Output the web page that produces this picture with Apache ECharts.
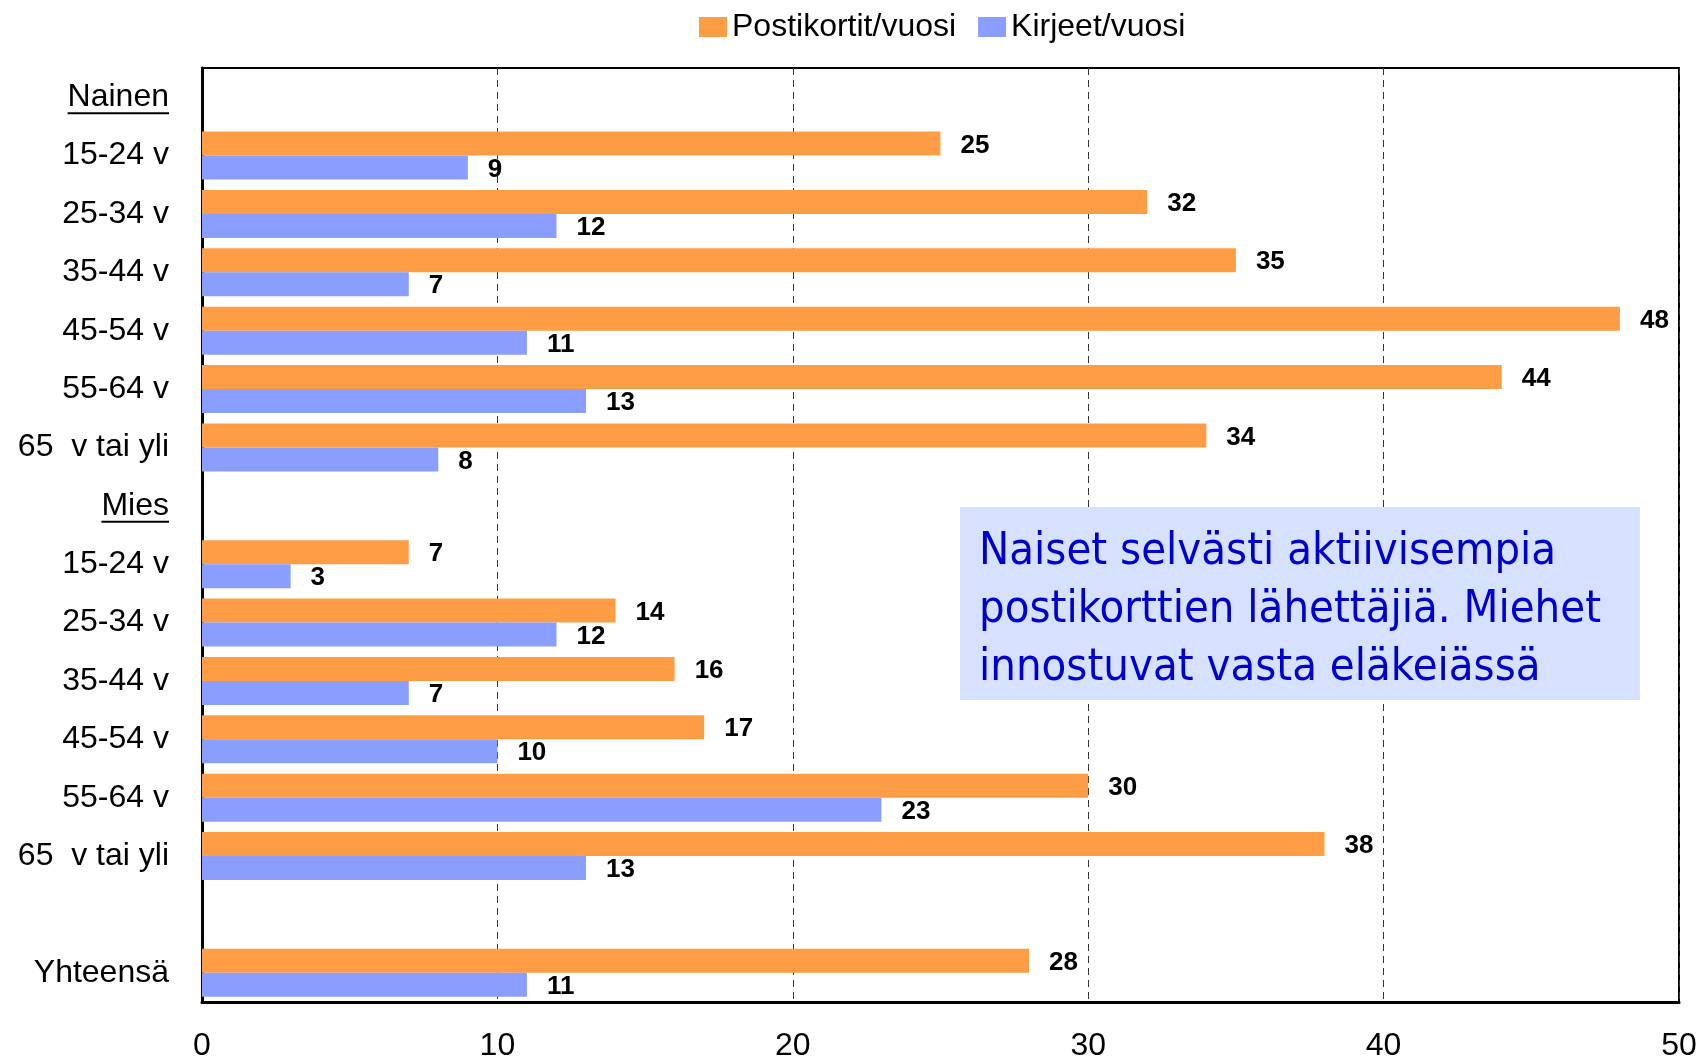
<!DOCTYPE html>
<html>
<head>
<meta charset="utf-8">
<title>Postikortit ja kirjeet</title>
<script src="https://cdn.jsdelivr.net/npm/echarts@6/dist/echarts.min.js"></script>
<style>
html,body{margin:0;padding:0;background:#fff;}
#chart{width:1702px;height:1057px;}
</style>
</head>
<body>
<div id="chart"></div>
<script>
// luokat ylhäältä alas, tyhjät rivit ovat otsikoita / väli
var categories = ['Nainen','15-24 v','25-34 v','35-44 v','45-54 v','55-64 v','65  v tai yli',
                  'Mies','15-24 v','25-34 v','35-44 v','45-54 v','55-64 v','65  v tai yli',
                  '','Yhteensä']
var headerRows = [0, 7]
var postikortit = [null,25,32,35,48,44,34, null,7,14,16,17,30,38, null,28]
var kirjeet     = [null,9,12,7,11,13,8,     null,3,12,7,10,23,13,   null,11]
var xTicks = [0,10,20,30,40,50]
var note = ['Naiset selvästi aktiivisempia','postikorttien lähettäjiä. Miehet','innostuvat vasta eläkeiässä']

var font = "'Liberation Sans', Arial, sans-serif"
var chart = echarts.init(document.getElementById('chart'))

var options = {
    animation:false,
    textStyle:{fontFamily:font},
    legend:{
        top:6,
        left:694,
        icon:'rect',
        itemWidth:28,
        itemHeight:20,
        itemGap:22,
        textStyle:{fontSize:32, color:'#000', fontFamily:font},
        data:['Postikortit/vuosi','Kirjeet/vuosi']
    },
    grid:{
        left:202, right:23, top:68, bottom:55,
        outerBoundsMode:'none',
        show:true,
        borderColor:'#000',
        borderWidth:2
    },
    xAxis:{
        type:'value',
        min:xTicks[0],
        max:xTicks[xTicks.length-1],
        interval:10,
        axisLine:{show:true, lineStyle:{color:'#000', width:3}},
        axisTick:{show:false},
        axisLabel:{fontSize:32, color:'#000', margin:28, fontFamily:font},
        splitLine:{show:true, lineStyle:{color:'#333', type:[7,5], width:1}}
    },
    yAxis:{
        type:'category',
        inverse:true,
        data:categories,
        axisLine:{show:true, lineStyle:{color:'#000', width:3}},
        axisTick:{show:false},
        axisLabel:{fontSize:32, color:'#000', margin:33, fontFamily:font}
    },
    series:[
        {
            name:'Postikortit/vuosi',
            type:'bar',
            barWidth:24,
            barGap:'0%',
            itemStyle:{color:'#FF9D46'},
            label:{show:true, position:'right', distance:20, offset:[0,2], fontSize:26, fontWeight:'bold', color:'#000', fontFamily:font},
            data:postikortit
        },
        {
            name:'Kirjeet/vuosi',
            type:'bar',
            barWidth:24,
            itemStyle:{color:'#8A9EFF'},
            label:{show:true, position:'right', distance:20, offset:[0,2], fontSize:26, fontWeight:'bold', color:'#000', fontFamily:font},
            data:kirjeet
        }
    ]
}
chart.setOption(options)

// alleviivaus otsikkoriveille (Nainen, Mies) ja tekstilaatikko
var ctx = document.createElement('canvas').getContext('2d')
ctx.font = '32px ' + font
var graphics = []
headerRows.forEach(function(i){
    var y = chart.convertToPixel({yAxisIndex:0}, i)
    var right = 202 - 33
    var w = ctx.measureText(categories[i]).width
    graphics.push({
        type:'line',
        shape:{x1:right-w, y1:y+16, x2:right, y2:y+16},
        style:{stroke:'#000', lineWidth:2}
    })
})
graphics.push({
    type:'group',
    left:960, top:507,
    children:[
        {type:'rect', shape:{x:0, y:0, width:680, height:193}, style:{fill:'#D6E0FF'}},
        {type:'text', x:19, y:16, style:{
            text:note.join('\n'),
            fill:'#0000CC',
            font:"45px 'Liberation Sans Narrow', 'DejaVu Sans Condensed', sans-serif",
            lineHeight:58
        }}
    ]
})
chart.setOption({graphic:graphics})
</script>
</body>
</html>
